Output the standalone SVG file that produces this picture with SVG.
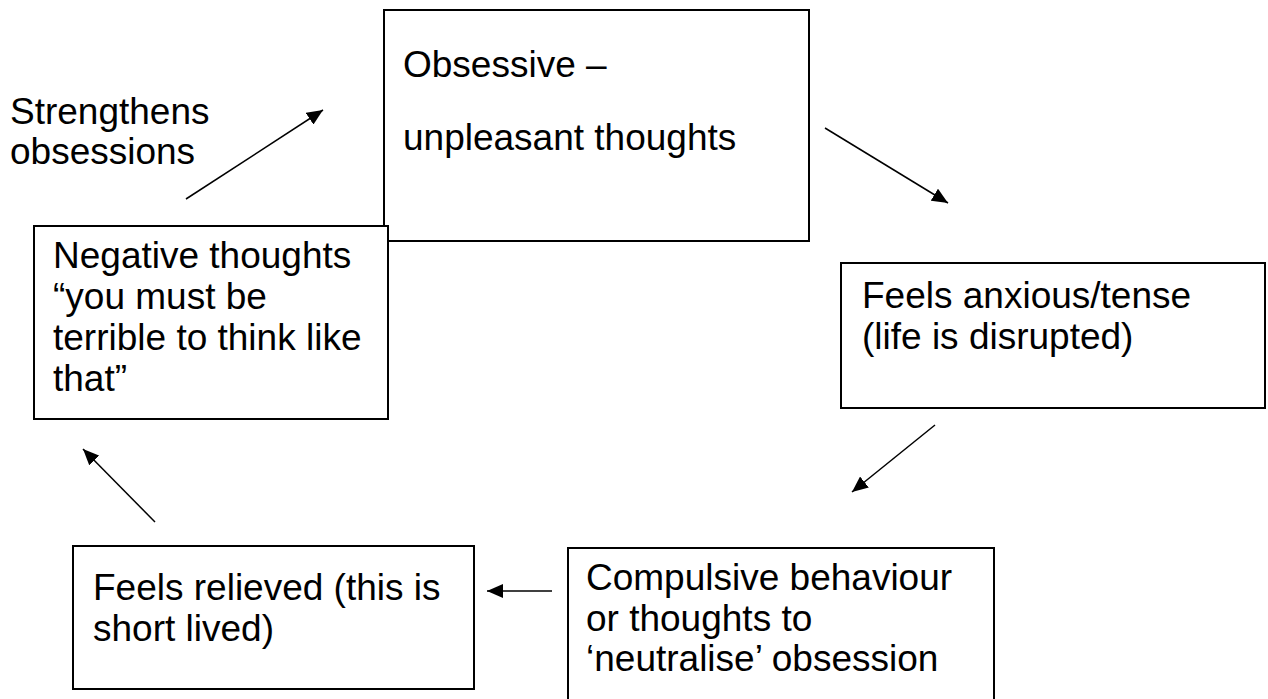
<svg xmlns="http://www.w3.org/2000/svg" width="1268" height="699" viewBox="0 0 1268 699">
<style>
.box{fill:#fff;stroke:#000;stroke-width:2}
.t{font-family:"Liberation Sans",Arial,sans-serif;font-size:37px;fill:#000}
.c{stroke:#000;stroke-width:1.5;fill:none;marker-end:url(#ah)}
</style>
<defs>
<marker id="ah" markerUnits="userSpaceOnUse" markerWidth="18" markerHeight="14" refX="16" refY="7" orient="auto">
<path d="M0,0 L16,7 L0,14 Z" fill="#000"/>
</marker>
</defs>
<rect width="1268" height="699" fill="#fff"/>
<g id="n1">
<rect class="box" x="384" y="10" width="425" height="231"/>
<text class="t" x="403" y="77">Obsessive –</text>
<text class="t" x="403" y="150">unpleasant thoughts</text>
</g>
<g id="n5">
<rect class="box" x="34" y="226" width="354" height="193"/>
<text class="t" x="53" y="268">Negative thoughts</text>
<text class="t" x="53" y="309">“you must be</text>
<text class="t" x="53" y="350">terrible to think like</text>
<text class="t" x="53" y="391">that”</text>
</g>
<g id="n2">
<rect class="box" x="841" y="263" width="424" height="145"/>
<text class="t" x="862" y="308">Feels anxious/tense</text>
<text class="t" x="862" y="349">(life is disrupted)</text>
</g>
<g id="n3">
<rect class="box" x="568" y="548" width="426" height="160"/>
<text class="t" x="586" y="590">Compulsive behaviour</text>
<text class="t" x="586" y="631">or thoughts to</text>
<text class="t" x="586" y="671">‘neutralise’ obsession</text>
</g>
<g id="n4">
<rect class="box" x="73" y="546" width="401" height="143"/>
<text class="t" x="93" y="600">Feels relieved (this is</text>
<text class="t" x="93" y="641">short lived)</text>
</g>
<g id="label">
<text class="t" x="10" y="124">Strengthens</text>
<text class="t" x="10" y="164">obsessions</text>
</g>
<g id="connectors">
<line class="c" x1="186" y1="199" x2="323" y2="110"/>
<line class="c" x1="825" y1="128" x2="948" y2="203"/>
<line class="c" x1="935" y1="425" x2="852" y2="492"/>
<line class="c" x1="552" y1="591" x2="487" y2="591"/>
<line class="c" x1="155" y1="522" x2="83" y2="449"/>
</g>
</svg>
